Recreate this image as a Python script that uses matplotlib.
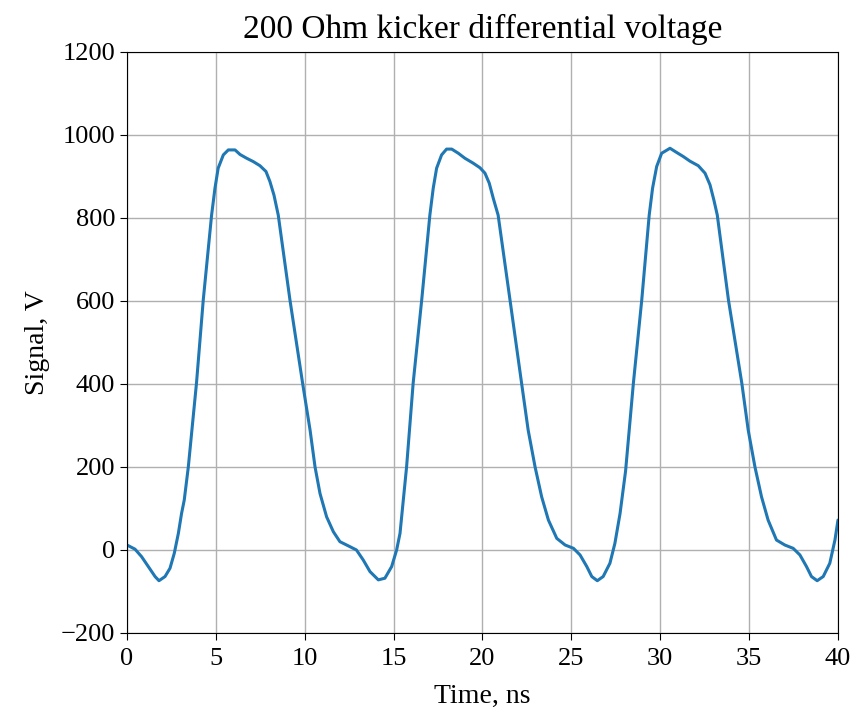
import numpy as np
import matplotlib
matplotlib.use('Agg')
import matplotlib.pyplot as plt

# Values (ns, V), three kicker pulses
time_ns = [
    0.0, 0.45, 0.82, 1.2, 1.58, 1.8, 2.14, 2.42, 2.66, 2.89, 3.07, 3.22,
    3.45, 3.91, 4.29, 4.76, 4.95, 5.13, 5.42, 5.7, 6.08, 6.36, 6.73, 7.1,
    7.48, 7.82, 8.04, 8.27, 8.51, 9.17, 9.88, 10.3, 10.58, 10.86, 11.23,
    11.61, 11.98, 12.45, 12.91, 13.29, 13.67, 14.14, 14.51, 14.89, 15.17,
    15.36, 15.73, 16.1, 16.58, 17.04, 17.23, 17.42, 17.7, 17.98, 18.27,
    18.64, 19.01, 19.48, 19.86, 20.14, 20.38, 20.61, 20.88, 21.55, 22.2,
    22.57, 22.96, 23.33, 23.71, 24.18, 24.65, 25.12, 25.49, 25.87, 26.15,
    26.46, 26.79, 27.17, 27.45, 27.74, 28.05, 28.49, 28.96, 29.38, 29.57,
    29.8, 30.08, 30.55, 30.92, 31.3, 31.67, 32.14, 32.52, 32.8, 33.02,
    33.21, 33.84, 34.59, 34.95, 35.33, 35.7, 36.07, 36.54, 37.01, 37.48,
    37.86, 38.23, 38.51, 38.83, 39.17, 39.54, 39.83, 40.0,
]
signal_v = [
    12, 2, -16, -40, -64, -74, -64, -44, -8, 40, 88, 120,
    200, 402, 602, 807, 872, 920, 952, 964, 964, 953, 944, 936,
    926, 912, 888, 855, 807, 602, 402, 289, 200, 136, 80,
    44, 20, 10, 0, -24, -52, -72, -68, -40, 0,
    40, 200, 402, 602, 807, 872, 920, 952, 966, 966,
    956, 944, 932, 921, 908, 884, 847, 807, 602, 402,
    289, 200, 128, 72, 28, 12, 4, -12, -40, -64,
    -74, -64, -32, 16, 88, 190, 402, 602, 807, 872,
    924, 956, 968, 958, 948, 937, 926, 908, 880, 843,
    807, 602, 402, 289, 200, 128, 72, 24, 12, 4,
    -12, -40, -64, -74, -64, -32, 24, 72,
]

plt.rcParams['font.family'] = ['Liberation Serif', 'DejaVu Serif']

fig = plt.figure(figsize=(8.68, 7.18), dpi=100)
ax = fig.add_axes([0.1463, 0.1184, 0.8191, 0.8092])
ax.plot(time_ns, signal_v, color='#1f77b4', lw=2.2,
        solid_joinstyle='round', solid_capstyle='round')
ax.set_xlim(0, 40)
ax.set_ylim(-200, 1200)
ax.set_xticks(np.arange(0, 41, 5))
ax.set_yticks(np.arange(-200, 1201, 200))
ax.grid(True, color='#b0b0b0', lw=1.0)
ax.tick_params(labelsize=19, length=5)
ax.tick_params(axis='x', pad=6)
ax.set_xlabel('Time, ns', fontsize=20, labelpad=10)
ax.set_ylabel('Signal, V', fontsize=20, labelpad=8)
ax.set_title('200 Ohm kicker differential voltage', fontsize=24, pad=10)
fig.savefig('out.png', dpi=100)
